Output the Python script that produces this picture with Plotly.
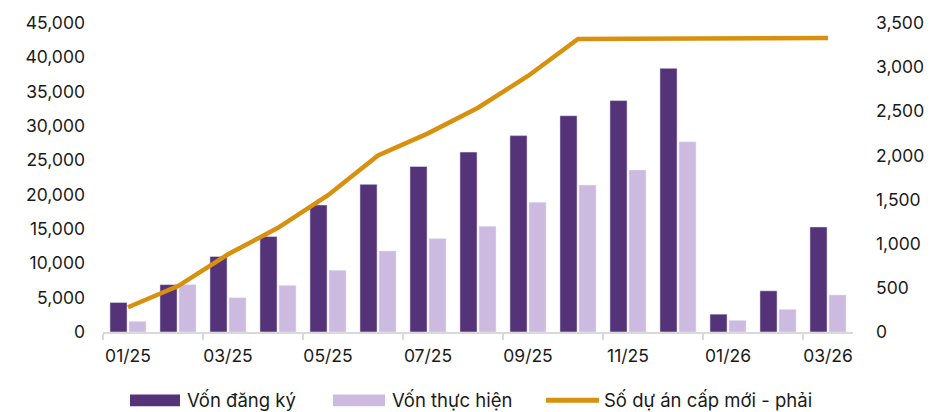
import plotly.graph_objects as go

months = ["01/25", "02/25", "03/25", "04/25", "05/25", "06/25", "07/25", "08/25",
          "09/25", "10/25", "11/25", "12/25", "01/26", "02/26", "03/26"]
von_dang_ky = [4300, 6900, 11000, 13900, 18500, 21500, 24100, 26200,
               28600, 31500, 33700, 38400, 2600, 6000, 15300]
von_thuc_hien = [1550, 6900, 5000, 6800, 9000, 11800, 13600, 15400,
                 18900, 21400, 23600, 27700, 1700, 3300, 5400]
so_du_an = [280, 520, 880, 1180, 1550, 2000, 2250, 2540,
            2900, 3320, 3322, 3324, 3326, 3328, 3330]

names = ["Vốn đăng ký", "Vốn thực hiện", "Số dự án cấp mới - phải"]
c_dark = "#543379"
c_light = "#CDBAE0"
c_line = "#D8900F"
font_fam = "Inter, 'Open Sans', sans-serif"
txt = "#1a1a1a"

idx = list(range(len(months)))

fig = go.Figure()
fig.add_trace(go.Bar(x=idx, y=von_dang_ky, name=names[0], marker_color=c_dark,
                     showlegend=False))
fig.add_trace(go.Bar(x=idx, y=von_thuc_hien, name=names[1], marker_color=c_light,
                     showlegend=False))
fig.add_trace(go.Scatter(x=idx, y=so_du_an, name=names[2], mode="lines",
                         line=dict(color=c_line, width=4.5), yaxis="y2",
                         showlegend=False))

fig.update_layout(
    width=937, height=412,
    margin=dict(l=103, r=84, t=20, b=80),
    paper_bgcolor="white", plot_bgcolor="white",
    font=dict(family=font_fam, size=17.5, color=txt),
    barmode="group", bargap=0.24, bargroupgap=0.1,
    xaxis=dict(
        range=[-0.5, len(months) - 0.5],
        tickvals=idx[::2], ticktext=months[::2],
        ticks="", showgrid=False, zeroline=False,
        showline=True, linecolor="#d9d9d9", linewidth=1.5,
        ticklabelstandoff=7,
        minor=dict(tick0=-0.5, dtick=2, ticks="outside", ticklen=6,
                   tickcolor="#d9d9d9", tickwidth=1.5, showgrid=False),
    ),
    yaxis=dict(
        range=[0, 45000], dtick=5000, tickformat=",d",
        showgrid=False, zeroline=False, showline=False,
        ticklabelstandoff=17,
    ),
    yaxis2=dict(
        range=[0, 3500], dtick=500, tickformat=",d",
        overlaying="y", side="right",
        showgrid=False, zeroline=False, showline=False,
        ticklabelstandoff=22,
    ),
)

def px_x(p):
    return (p - 103) / 750.0

def px_y(p):
    return (332 - p) / 312.0

shapes = [
    dict(type="rect", xref="paper", yref="paper",
         x0=px_x(130), x1=px_x(180), y0=px_y(407), y1=px_y(395),
         fillcolor=c_dark, line=dict(width=0)),
    dict(type="rect", xref="paper", yref="paper",
         x0=px_x(333), x1=px_x(385), y0=px_y(407), y1=px_y(395),
         fillcolor=c_light, line=dict(width=0)),
    dict(type="line", xref="paper", yref="paper",
         x0=px_x(546), x1=px_x(599), y0=px_y(401), y1=px_y(401),
         line=dict(color=c_line, width=5)),
]
for s in shapes:
    fig.add_shape(**s)

for xp, name in [(185, names[0]), (390, names[1]), (602, names[2])]:
    fig.add_annotation(x=px_x(xp), y=px_y(401), xref="paper", yref="paper",
                       text=name, showarrow=False, xanchor="left", yanchor="middle",
                       font=dict(family=font_fam, size=18.5, color=txt))

fig.write_html("out.html", config={"displayModeBar": False},
               post_script="document.body.style.margin='0';document.body.style.overflow='hidden';")
